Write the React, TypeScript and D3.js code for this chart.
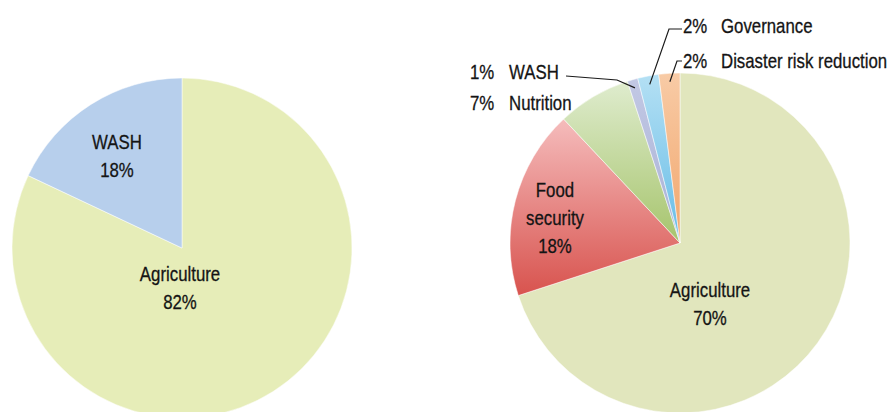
import React from "react";
import * as d3 from "d3";

const leftCategories = ["Agriculture", "WASH"];
const leftValues = [82, 18];
const rightCategories = ["Agriculture", "Food security", "Nutrition", "WASH", "Governance", "Disaster risk reduction"];
const rightValues = [70, 18, 7, 1, 2, 2];

const W = 892, H = 412;
const FONT = "'Liberation Sans', Arial, sans-serif";
const FS = 20.5;
const SX = 0.82;

const leftColors: Record<string, [string, string]> = {
  Agriculture: ["#e6edb8", "#e6edb8"],
  WASH: ["#b7cfec", "#b7cfec"],
};
const rightColors: Record<string, [string, string]> = {
  Agriculture: ["#e1e6bd", "#e1e6bd"],
  "Food security": ["#f5bcbc", "#d8534e"],
  Nutrition: ["#dfecce", "#a6c46c"],
  WASH: ["#c2c8e4", "#a9b2d6"],
  Governance: ["#b4e0f4", "#66bce6"],
  "Disaster risk reduction": ["#f8cba6", "#f1a66c"],
};

// layout: in-slice label block centre offsets from pie centre
const leftInside: Record<string, { dx: number; dy: number; lines: string[] }> = {
  WASH: { dx: -65, dy: -92, lines: ["WASH", "18%"] },
  Agriculture: { dx: -2, dy: 40, lines: ["Agriculture", "82%"] },
};
const rightInside: Record<string, { dx: number; dy: number; lines: string[] }> = {
  "Food security": { dx: -125, dy: -25, lines: ["Food", "security", "18%"] },
  Agriculture: { dx: 30, dy: 61, lines: ["Agriculture", "70%"] },
};
// outside label layout
const outside: Record<string, { px: number; tx: number; y: number; ex: number; ey: number; lx: number; ly: number }> = {
  WASH: { px: 470, tx: 509, y: 79, ex: 617, ey: 80, lx: 566, ly: 76 },
  Nutrition: { px: 470, tx: 509, y: 110, ex: 0, ey: 0, lx: 0, ly: 0 },
  Governance: { px: 683, tx: 721, y: 33, ex: 669, ey: 29, lx: 682, ly: 29 },
  "Disaster risk reduction": { px: 683, tx: 721, y: 68, ex: 677, ey: 61, lx: 682, ly: 61 },
};

const R = 170;
const leftC = { x: 182, y: 248 };
const rightC = { x: 680, y: 243 };

function T({ x, y, anchor = "start", children }: any) {
  return (
    <text
      transform={`translate(${x},${y}) scale(${SX},1)`}
      fontFamily={FONT}
      fontSize={FS}
      fill="#141414"
      stroke="#141414"
      strokeWidth={0.3}
      textAnchor={anchor}
    >
      {children}
    </text>
  );
}

function Pie({ cats, vals, colors, c, inside, prefix, outsideLabels }: any) {
  const pie = d3.pie<number>().sort(null).startAngle(0).endAngle(2 * Math.PI);
  const arcs = pie(vals);
  const arc = d3.arc<d3.PieArcDatum<number>>().innerRadius(0).outerRadius(R);
  const lineH = 28;
  return (
    <g transform={`translate(${c.x},${c.y})`}>
      <defs>
        {cats.map((k: string, i: number) => (
          <linearGradient key={k} id={`${prefix}${i}`} x1="0" y1="0" x2="0" y2="1">
            <stop offset="0" stopColor={colors[k][0]} />
            <stop offset="1" stopColor={colors[k][1]} />
          </linearGradient>
        ))}
      </defs>
      {arcs.map((a, i) => (
        <path key={i} d={arc(a) || ""} fill={`url(#${prefix}${i})`} stroke="#ffffff" strokeWidth={0.5} />
      ))}
      {cats.map((k: string) => {
        const lab = inside[k];
        if (!lab) return null;
        const n = lab.lines.length;
        const y0 = lab.dy - ((n - 1) * lineH) / 2 + 7;
        return lab.lines.map((l: string, j: number) => (
          <T key={k + j} x={lab.dx} y={y0 + j * lineH} anchor="middle">{l}</T>
        ));
      })}
      {outsideLabels &&
        cats.map((k: string, i: number) => {
          const o = outsideLabels[k];
          if (!o) return null;
          const a = arcs[i];
          const mid = (a.startAngle + a.endAngle) / 2;
          const ax = Math.sin(mid) * R * 0.95;
          const ay = -Math.cos(mid) * R * 0.95;
          return (
            <g key={k}>
              {o.ex !== 0 && (
                <polyline
                  points={`${o.lx - c.x},${o.ly - c.y} ${o.ex - c.x},${o.ey - c.y} ${ax},${ay}`}
                  fill="none"
                  stroke="#1a1a1a"
                  strokeWidth={1.2}
                />
              )}
              <T x={o.px - c.x} y={o.y - c.y}>{Math.round(vals[i])}%</T>
              <T x={o.tx - c.x} y={o.y - c.y}>{k}</T>
            </g>
          );
        })}
    </g>
  );
}

export default function App() {
  return (
    <svg width={W} height={H} style={{ position: "absolute", left: 0, top: 0, background: "#ffffff" }}>
      <rect width={W} height={H} fill="#ffffff" />
      <Pie cats={leftCategories} vals={leftValues} colors={leftColors} c={leftC} inside={leftInside} prefix="lg" />
      <Pie
        cats={rightCategories}
        vals={rightValues}
        colors={rightColors}
        c={rightC}
        inside={rightInside}
        prefix="rg"
        outsideLabels={outside}
      />
    </svg>
  );
}
